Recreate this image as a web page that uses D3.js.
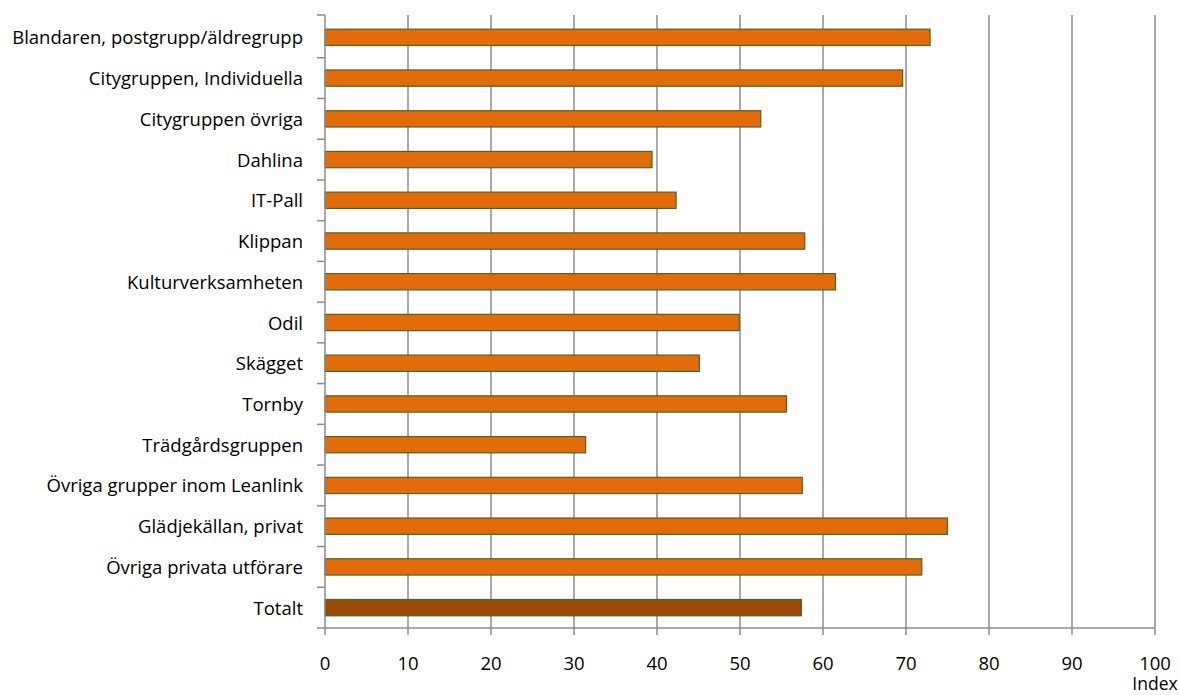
<!DOCTYPE html>
<html>
<head>
<meta charset="utf-8">
<script src="https://cdn.jsdelivr.net/npm/d3@7"></script>
<style>
  html, body { margin: 0; padding: 0; background: #fff; }
  svg text { font-family: "Open Sans", "Lato", sans-serif; fill: #000; }
</style>
</head>
<body>
<svg id="chart" width="1179" height="695"></svg>
<script>
const categories = [
  "Blandaren, postgrupp/äldregrupp",
  "Citygruppen, Individuella",
  "Citygruppen övriga",
  "Dahlina",
  "IT-Pall",
  "Klippan",
  "Kulturverksamheten",
  "Odil",
  "Skägget",
  "Tornby",
  "Trädgårdsgruppen",
  "Övriga grupper inom Leanlink",
  "Glädjekällan, privat",
  "Övriga privata utförare",
  "Totalt"
];
const values = [72.9, 69.6, 52.5, 39.4, 42.3, 57.8, 61.5, 49.9, 45.1, 55.6, 31.4, 57.5, 75.0, 71.9, 57.4];
const xTicks = [0, 10, 20, 30, 40, 50, 60, 70, 80, 90, 100];
const axisTitle = "Index";

(function () {
const svg = d3.select("#chart");
const mLeft = 325, mRight = 1155, mTop = 15, bandTop = 17, mBottom = 628;
const gridColor = "#8c8c8c";
const fs = 18.5;

const x = d3.scaleLinear().domain([0, 100]).range([mLeft, mRight]);
const y = d3.scaleBand().domain(categories).range([bandTop, mBottom]).paddingInner(0.6).paddingOuter(0.3);
const yb = d3.scaleBand().domain(categories).range([bandTop, mBottom]).padding(0);

// gridlines
svg.append("g").selectAll("line").data(xTicks.filter(d => d > 0)).join("line")
  .attr("x1", d => x(d)).attr("x2", d => x(d))
  .attr("y1", mTop).attr("y2", mBottom)
  .attr("stroke", gridColor).attr("stroke-width", 1.5);

// bars
svg.append("g").selectAll("rect").data(categories).join("rect")
  .attr("x", x(0))
  .attr("y", d => y(d))
  .attr("width", (d, i) => x(values[i]) - x(0))
  .attr("height", y.bandwidth())
  .attr("fill", d => d === "Totalt" ? "#984807" : "#E36C0A")
  .attr("stroke", "#4F6228").attr("stroke-width", 1.2);

// y axis
const yAxis = svg.append("g");
yAxis.append("line").attr("x1", mLeft).attr("x2", mLeft).attr("y1", mTop).attr("y2", mBottom)
  .attr("stroke", gridColor).attr("stroke-width", 1.5);
const bounds = [mTop].concat(categories.slice(1).map(c => yb(c))).concat([mBottom]);
yAxis.selectAll("line.t").data(bounds).join("line").attr("class", "t")
  .attr("x1", mLeft - 8).attr("x2", mLeft).attr("y1", d => d).attr("y2", d => d)
  .attr("stroke", gridColor).attr("stroke-width", 1.5);
yAxis.selectAll("text").data(categories).join("text")
  .attr("x", mLeft - 22).attr("y", d => yb(d) + yb.bandwidth() / 2 + 7)
  .attr("text-anchor", "end")
  .attr("font-size", fs).text(d => d);

// x axis
const xAxis = svg.append("g");
xAxis.append("line").attr("x1", mLeft).attr("x2", mRight).attr("y1", mBottom).attr("y2", mBottom)
  .attr("stroke", gridColor).attr("stroke-width", 1.5);
xAxis.selectAll("line.t").data(xTicks).join("line").attr("class", "t")
  .attr("x1", d => x(d)).attr("x2", d => x(d)).attr("y1", mBottom).attr("y2", mBottom + 7)
  .attr("stroke", gridColor).attr("stroke-width", 1.5);
xAxis.selectAll("text").data(xTicks).join("text")
  .attr("x", d => x(d)).attr("y", 670)
  .attr("text-anchor", "middle").attr("font-size", fs).text(d => d);
svg.append("text").attr("x", mRight).attr("y", 690).attr("text-anchor", "middle")
  .attr("font-size", 17.5).text(axisTitle);
})();
</script>
</body>
</html>
